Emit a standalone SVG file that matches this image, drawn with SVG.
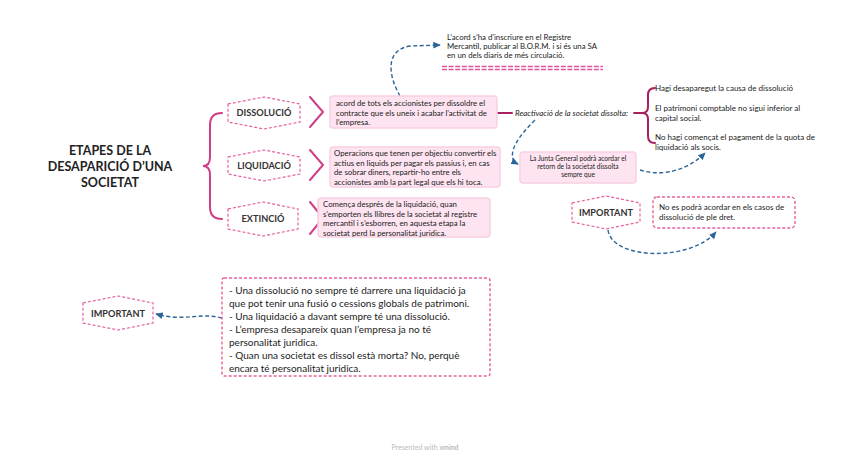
<svg xmlns="http://www.w3.org/2000/svg" width="848" height="461" viewBox="0 0 848 461">
<defs>
<style>
text{font-family:Lato,"Liberation Sans",sans-serif;fill:#222}
.title{font-size:12.5px;font-weight:bold;text-anchor:middle}
.hexlbl{font-size:9.2px;font-weight:bold;text-anchor:middle;fill:#333}
.hex{fill:#fff;stroke:#e8609f;stroke-width:1.2;stroke-dasharray:3,2}
.box{fill:#fde4f0;stroke:#f9d0e3;stroke-width:1.5}
.small{font-size:7.8px}
.tiny{font-size:6.6px;text-anchor:middle}
.med{font-size:8px}
.big{font-size:10px}
.dbox{fill:#fff;stroke:#e8609f;stroke-width:1.4;stroke-dasharray:3,2}
.brace{fill:none;stroke:#cf3f86;stroke-width:2;stroke-linecap:round}
.brace2{fill:none;stroke:#a8205f;stroke-width:2;stroke-linecap:round}
.conn{fill:none;stroke:#2d6599;stroke-width:1.4;stroke-dasharray:4,2.5}
</style>
<marker id="ah" viewBox="0 0 10 10" refX="8" refY="5" markerWidth="6" markerHeight="6" orient="auto-start-reverse">
<path d="M0,1 L9,5 L0,9 z" fill="#2d6599"/>
</marker>
</defs>
<rect width="848" height="461" fill="#fff"/>

<g id="title">
<text class="title" x="110" y="155">ETAPES DE LA</text>
<text class="title" x="110" y="171">DESAPARICIÓ D’UNA</text>
<text class="title" x="110" y="187">SOCIETAT</text>
</g>

<g id="connectors">
<path class="brace" d="M222,113 Q210,113 210,125 L210,157 Q210,166 203,166 Q210,166 210,175 L210,207 Q210,219 222,219"/>
<path class="brace" d="M310,97 L323,112 L310,127"/>
<path class="brace" d="M310,150 L323,165 L310,180"/>
<path class="brace" d="M310,202 L323,218 L310,234"/>
<path class="brace2" d="M497,113 L512,113"/>
<path class="brace2" d="M634,113 L645,113"/>
<path class="brace2" d="M655,88 Q648,88 648,95 L648,107 Q648,113 642,113 Q648,113 648,119 L648,136 Q648,143 655,143"/>
<path class="conn" d="M400,96 C388,75 385,50 410,46 L440,45" marker-end="url(#ah)"/>
<path class="conn" d="M535,120 C520,135 508,150 514,162 L518,164" marker-end="url(#ah)"/>
<path class="conn" d="M640,170 C665,178 690,168 705,153" marker-end="url(#ah)"/>
<path class="conn" d="M608,230 C612,260 690,262 716,232" marker-end="url(#ah)"/>
<path class="conn" d="M222,318 C200,312 185,322 156,314" marker-end="url(#ah)"/>
</g>

<g id="dissolucio">
<polygon class="hex" points="228,104 264,97 300,104 300,122 264,129 228,122"/>
<text class="hexlbl" x="264" y="116">DISSOLUCIÓ</text>
</g>
<g id="liquidacio">
<polygon class="hex" points="228,157 264,150 300,157 300,174 264,181 228,174"/>
<text class="hexlbl" x="264" y="169">LIQUIDACIÓ</text>
</g>
<g id="extincio">
<polygon class="hex" points="228,209 263,202 298,209 298,229 263,236 228,229"/>
<text class="hexlbl" x="263" y="222">EXTINCIÓ</text>
</g>

<g id="desc-dissolucio">
<rect class="box" x="330" y="96" width="167" height="32" rx="3"/>
<text class="small" x="336" y="106">acord de tots els accionistes per dissoldre el</text>
<text class="small" x="336" y="115.5">contracte que els uneix i acabar l’activitat de</text>
<text class="small" x="336" y="125">l’empresa.</text>
</g>
<g id="desc-liquidacio">
<rect class="box" x="330" y="147" width="170" height="40" rx="3"/>
<text class="small" x="334" y="156">Operacions que tenen per objectiu convertir els</text>
<text class="small" x="334" y="165.5">actius en liquids per pagar els passius i, en cas</text>
<text class="small" x="334" y="175">de sobrar diners, repartir-ho entre els</text>
<text class="small" x="334" y="184.5">accionistes amb la part legal que els hi toca.</text>
</g>
<g id="desc-extincio">
<rect class="box" x="318" y="198" width="172" height="39" rx="3"/>
<text class="small" x="323" y="207">Comença després de la liquidació, quan</text>
<text class="small" x="323" y="216.5">s’emporten els llibres de la societat al registre</text>
<text class="small" x="323" y="226">mercantil i s’esborren, en aquesta etapa la</text>
<text class="small" x="323" y="235.5">societat perd la personalitat juridica.</text>
</g>

<g id="registre">
<text class="small" x="447" y="40">L’acord s’ha d’inscriure en el Registre</text>
<text class="small" x="447" y="49">Mercantil, publicar al B.O.R.M. i si és una SA</text>
<text class="small" x="447" y="58">en un dels diaris de més circulació.</text>
<path d="M442,66.5 H603 M442,69.5 H603" stroke="#e0529a" stroke-width="1.5" stroke-dasharray="5,1.6" fill="none"/>
</g>

<g id="reactivacio">
<text class="med" x="515" y="116" font-style="italic">Reactivació de la societat dissolta:</text>
</g>

<g id="condicions">
<text class="med" x="655" y="91">Hagi desaparegut la causa de dissolució</text>
<text class="med" x="655" y="111">El patrimoni comptable no sigui inferior al</text>
<text class="med" x="655" y="121">capital social.</text>
<text class="med" x="655" y="140">No hagi començat el pagament de la quota de</text>
<text class="med" x="655" y="150">liquidació als socis.</text>
</g>

<g id="junta">
<rect class="box" x="520" y="152" width="116" height="31" rx="3"/>
<text class="tiny" x="578" y="161">La Junta General podrà acordar el</text>
<text class="tiny" x="578" y="169">retorn de la societat dissolta</text>
<text class="tiny" x="578" y="177">sempre que</text>
</g>

<g id="important-1">
<polygon class="hex" points="572,203 606,196 640,203 640,222 606,229 572,222"/>
<text class="hexlbl" x="606" y="216">IMPORTANT</text>
</g>
<g id="nota-1">
<rect class="dbox" x="653" y="197" width="142" height="31" rx="4"/>
<text class="med" x="659" y="210">No es podrà acordar en els casos de</text>
<text class="med" x="659" y="220">dissolució de ple dret.</text>
</g>

<g id="important-2">
<polygon class="hex" points="83,303 118,296 153,303 153,323 118,330 83,323"/>
<text class="hexlbl" x="118" y="317">IMPORTANT</text>
</g>
<g id="nota-2">
<rect class="dbox" x="222" y="278" width="268" height="98" rx="2"/>
<text class="big" x="229" y="294">- Una dissolució no sempre té darrere una liquidació ja</text>
<text class="big" x="229" y="307">que pot tenir una fusió o cessions globals de patrimoni.</text>
<text class="big" x="229" y="320">- Una liquidació a davant sempre té una dissolució.</text>
<text class="big" x="229" y="333">- L’empresa desapareix quan l’empresa ja no té</text>
<text class="big" x="229" y="346">personalitat juridica.</text>
<text class="big" x="229" y="359">- Quan una societat es dissol està morta? No, perquè</text>
<text class="big" x="229" y="372">encara té personalitat juridica.</text>
</g>

<text x="425" y="450" font-size="7" text-anchor="middle" style="fill:#bbb">Presented with <tspan font-weight="bold">xmind</tspan></text>
</svg>
